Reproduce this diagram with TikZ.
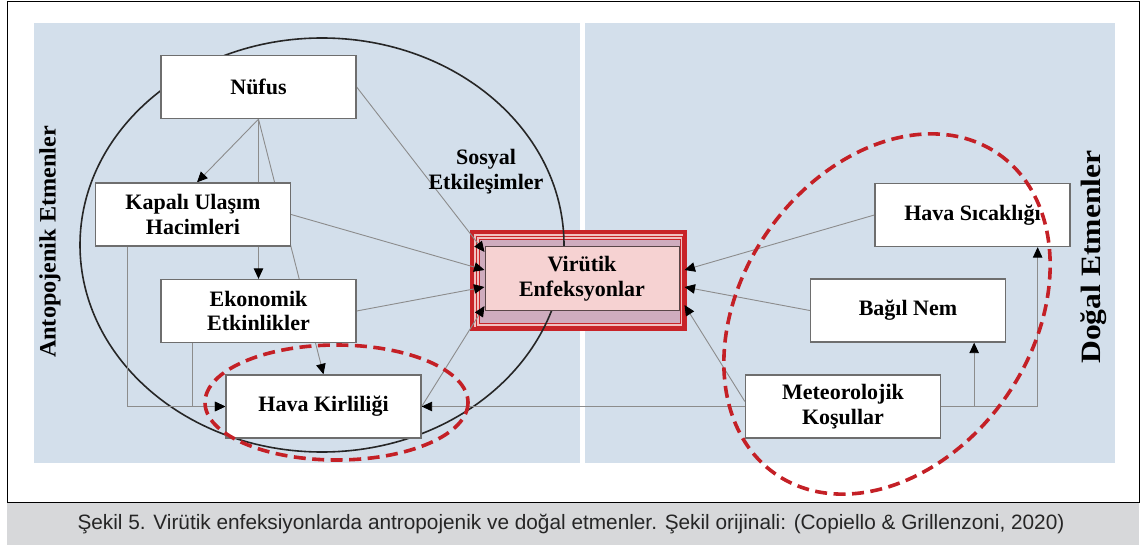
\documentclass[tikz,border=0pt]{standalone}
\usepackage{fontspec}
\setmainfont{Liberation Serif}
\newfontfamily\capfont{Liberation Sans}
\usetikzlibrary{arrows.meta,calc}
\pgfdeclarelayer{back}
\pgfdeclarelayer{redfr}
\pgfdeclarelayer{lines}
\pgfdeclarelayer{front}
\pgfsetlayers{back,redfr,lines,main,front}
\definecolor{panelblue}{RGB}{211,223,235}
\definecolor{capgray}{RGB}{215,216,218}
\definecolor{boxedge}{RGB}{110,110,110}
\definecolor{conncol}{RGB}{140,140,140}
\definecolor{dred}{RGB}{196,32,38}
\definecolor{frred}{RGB}{200,35,40}
\definecolor{pinkfill}{RGB}{246,210,210}
\definecolor{lav}{RGB}{207,172,190}
\definecolor{pinkgap}{RGB}{240,192,192}
\definecolor{vbord}{RGB}{90,70,72}
\tikzset{
  box/.style={draw=boxedge, line width=1.3pt, fill=white, minimum width=195pt,
    minimum height=63pt, inner sep=0pt, align=center,
    font=\fontsize{22}{24.5}\selectfont\bfseries},
  link/.style={draw=conncol, line width=0.9pt},
  arr/.style={link, -{Triangle[length=10.5pt,width=9.5pt,color=black]}},
  bigell/.style={line width=1.6pt, black!85},
  redell/.style={dred, line width=3.6pt, dash pattern=on 12pt off 6.5pt},
  sidelab/.style={rotate=90, inner sep=0pt},
}
\begin{document}
\begin{tikzpicture}[x=1pt, y=-1pt]
\useasboundingbox (0,0) rectangle (1141,548);
\begin{pgfonlayer}{back}
  \fill[white] (0,0) rectangle (1141,548);
  \fill[capgray] (7,503) rectangle (1139,545);
  \draw[black, line width=1pt] (7,1.5) rectangle (1139.5,502.5);
  \fill[panelblue] (34,23) rectangle (580,463);
  \fill[panelblue] (585,23) rectangle (1115,463);
\end{pgfonlayer}
\begin{pgfonlayer}{redfr}
  \fill[pinkgap] (470,230) rectangle (687,331);
  \draw[frred, line width=4.5pt] (472.2,232.2) rectangle (684.8,328.8);
  \draw[frred, line width=0.9pt] (476,236) rectangle (682,326);
  \fill[lav] (479,239) rectangle (680,323);
  \draw[frred, line width=0.9pt] (479,239) rectangle (680,323);
\end{pgfonlayer}

\node[box] (nufus) at (258.5,87) {Nüfus};
\node[box] (kapali) at (193,214.5) {Kapalı Ulaşım\\Hacimleri};
\node[box] (ekon) at (258.5,311) {Ekonomik\\Etkinlikler};
\node[box] (hava) at (323.5,406.5) {Hava Kirliliği};
\node[box] (sicak) at (972.5,215) {Hava Sıcaklığı};
\node[box] (nem) at (908,310.5) {Bağıl Nem};
\node[box] (meteo) at (843,406.5) {Meteorolojik\\Koşullar};
\node[box, fill=pinkfill, draw=vbord, line width=1pt, minimum width=194pt] (vir) at (582,278.5) {Virütik\\Enfeksyonlar};
\node[align=center, inner sep=0pt, font=\fontsize{22}{25}\selectfont\bfseries] (sosyal) at (486,172) {Sosyal\\Etkileşimler};
\node[sidelab, xscale=1.03, font=\fontsize{23.5}{24}\selectfont\bfseries] (antlab) at (50,242) {Antopojenik Etmenler};
\node[sidelab, xscale=1.13, font=\fontsize{28}{28}\selectfont\bfseries] (doglab) at (1094,257) {Doğal Etmenler};
\node[inner sep=0pt, text=black!85, font=\capfont\fontsize{20.8}{22}\selectfont] (caption) at (571,524) {Şekil 5. Virütik enfeksiyonlarda antropojenik ve doğal etmenler. Şekil orijinali: (Copiello \& Grillenzoni, 2020)};

\begin{pgfonlayer}{lines}
  \draw[bigell] (322,245) ellipse [x radius=242, y radius=207];
  \draw[arr] (nufus.east) -- ($(vir.west)+(0,-26.5)$);
  \draw[arr] (kapali.east) -- ($(vir.west)+(0,-8.5)$);
  \draw[arr] (ekon.east) -- ($(vir.west)+(0,8.5)$);
  \draw[arr] (hava.east) -- ($(vir.west)+(0,27.5)$);
  \draw[arr] (sicak.west) -- ($(vir.east)+(5,-8.5)$);
  \draw[arr] (nem.west) -- ($(vir.east)+(5,8.5)$);
  \draw[arr] ($(meteo.west)+(0,-5)$) -- ($(vir.east)+(5,26.5)$);
  \draw[arr] (nufus.south) -- ($(kapali.north)+(4,0)$);
  \draw[arr] (nufus.south) -- (ekon.north);
  \draw[arr] (nufus.south) -- (hava.north);
  \draw[arr] ($(kapali.south west)+(33,0)$) |- (hava.west);
  \draw[arr] ($(ekon.south west)+(32,0)$) |- (hava.west);
  \draw[arr] (meteo.west) -- (hava.east);
  \draw[arr] (meteo.east) -| ($(nem.south east)+(-32,0)$);
  \draw[arr] (meteo.east) -| ($(sicak.south east)+(-33,0)$);
\end{pgfonlayer}

\begin{pgfonlayer}{front}
  \draw[redell] (336.5,402.5) ellipse [x radius=131.5, y radius=57.5];
  \draw[redell, shift={(887,314)}, rotate=55] (0,0) ellipse [x radius=195, y radius=145];
\end{pgfonlayer}
\end{tikzpicture}
\end{document}
